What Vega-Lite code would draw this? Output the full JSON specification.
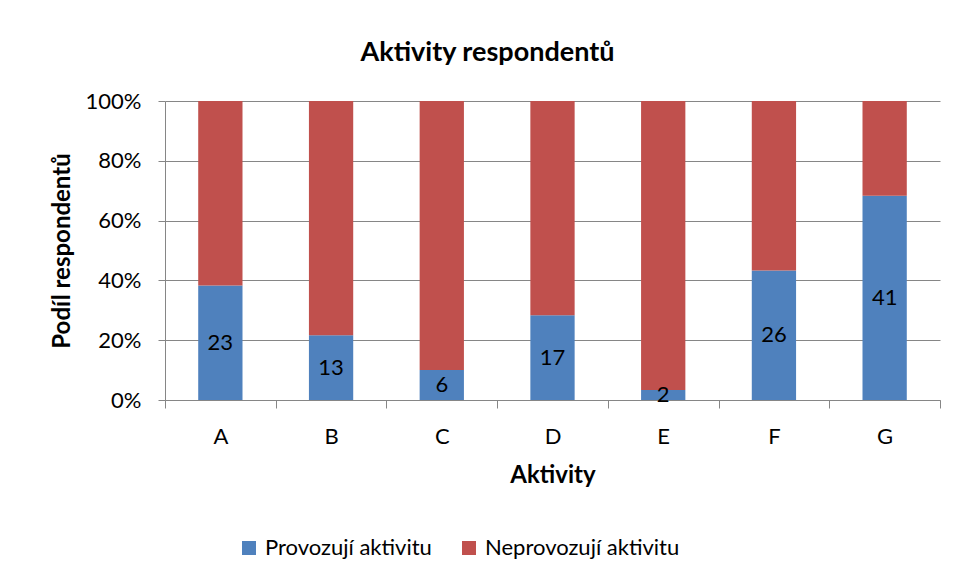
{
  "$schema": "https://vega.github.io/schema/vega-lite/v6.json",
  "width": 775,
  "height": 299,
  "autosize": "none",
  "padding": {"left": 165, "top": 101, "right": 15, "bottom": 181},
  "background": "white",
  "title": {
    "text": "Aktivity respondentů",
    "font": "Lato",
    "fontSize": 27,
    "fontWeight": "bold",
    "color": "black",
    "anchor": "middle",
    "dx": -65,
    "offset": 23
  },
  "data": {
    "values": [
      {"cat": "A", "series": "Provozují aktivitu", "value": 23},
      {"cat": "A", "series": "Neprovozují aktivitu", "value": 37},
      {"cat": "B", "series": "Provozují aktivitu", "value": 13},
      {"cat": "B", "series": "Neprovozují aktivitu", "value": 47},
      {"cat": "C", "series": "Provozují aktivitu", "value": 6},
      {"cat": "C", "series": "Neprovozují aktivitu", "value": 54},
      {"cat": "D", "series": "Provozují aktivitu", "value": 17},
      {"cat": "D", "series": "Neprovozují aktivitu", "value": 43},
      {"cat": "E", "series": "Provozují aktivitu", "value": 2},
      {"cat": "E", "series": "Neprovozují aktivitu", "value": 58},
      {"cat": "F", "series": "Provozují aktivitu", "value": 26},
      {"cat": "F", "series": "Neprovozují aktivitu", "value": 34},
      {"cat": "G", "series": "Provozují aktivitu", "value": 41},
      {"cat": "G", "series": "Neprovozují aktivitu", "value": 19}
    ]
  },
  "transform": [
    {"stack": "value", "groupby": ["cat"], "offset": "normalize", "sort": [{"field": "series", "order": "descending"}], "as": ["y0", "y1"]},
    {"calculate": "(datum.y0 + datum.y1) / 2", "as": "ymid"}
  ],
  "encoding": {
    "x": {
      "field": "cat",
      "type": "nominal",
      "scale": {"paddingInner": 0, "paddingOuter": 0},
      "axis": {
        "title": "Aktivity",
        "labelAngle": 0,
        "labelFont": "Lato",
        "labelFontSize": 22,
        "labelColor": "black",
        "labelPadding": 18,
        "tickSize": 8,
        "tickColor": "#868686",
        "tickBand": "extent",
        "domainColor": "#868686",
        "grid": false,
        "titleFont": "Lato",
        "titleFontSize": 24,
        "titleFontWeight": "bold",
        "titleColor": "black",
        "titleBaseline": "alphabetic",
        "titleY": 82
      }
    }
  },
  "layer": [
    {
      "mark": {"type": "bar", "width": {"band": 0.4}},
      "encoding": {
        "y": {
          "field": "y0",
          "type": "quantitative",
          "scale": {"domain": [0, 1]},
          "axis": {
            "title": "Podíl respondentů",
            "format": ".0%",
            "values": [0, 0.2, 0.4, 0.6, 0.8, 1],
            "labelFont": "Lato",
            "labelFontSize": 22,
            "labelColor": "black",
            "labelPadding": 17,
            "tickSize": 7,
            "tickColor": "#868686",
            "domainColor": "#868686",
            "gridColor": "#868686",
            "titleFont": "Lato",
            "titleFontSize": 24,
            "titleFontWeight": "bold",
            "titleColor": "black",
            "titleAngle": 270,
            "titleAlign": "center",
            "titleBaseline": "alphabetic",
            "titleX": -96,
            "titleY": 149.5
          }
        },
        "y2": {"field": "y1"},
        "color": {
          "field": "series",
          "type": "nominal",
          "scale": {"domain": ["Provozují aktivitu", "Neprovozují aktivitu"], "range": ["#4F81BD", "#C0504D"]},
          "legend": {
            "title": null,
            "orient": "none",
            "direction": "horizontal",
            "legendX": 73,
            "legendY": 436,
            "padding": 0,
            "symbolType": "square",
            "symbolSize": 196,
            "symbolStrokeWidth": 0,
            "symbolOpacity": 1,
            "labelFont": "Lato",
            "labelFontSize": 22,
            "labelColor": "black",
            "labelOffset": 5,
            "labelLimit": 0,
            "columnPadding": 26
          }
        }
      }
    },
    {
      "transform": [{"filter": "datum.series === 'Provozují aktivitu'"}],
      "mark": {"type": "text", "font": "Lato", "fontSize": 22, "color": "black", "baseline": "middle", "align": "center"},
      "encoding": {
        "y": {"field": "ymid", "type": "quantitative"},
        "text": {"field": "value", "type": "quantitative"}
      }
    }
  ],
  "config": {
    "view": {"stroke": null}
  }
}
